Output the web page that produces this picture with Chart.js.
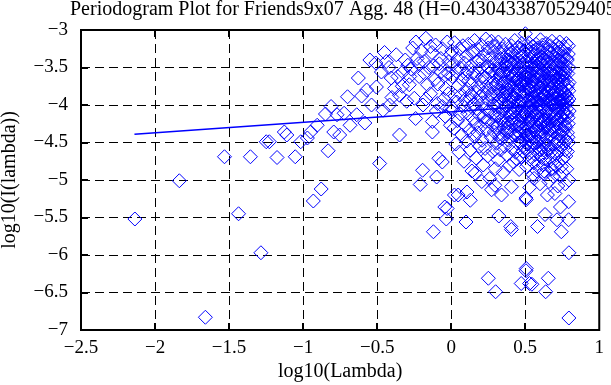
<!DOCTYPE html>
<html>
<head>
<meta charset="utf-8">
<script src="https://cdn.jsdelivr.net/npm/chart.js@4.4.1/dist/chart.umd.min.js"></script>
<style>
  body { margin: 0; background: #fff; }
  #wrap { width: 611px; height: 385px; position: relative; }
</style>
</head>
<body>
<div id="wrap"><canvas id="pgram"></canvas></div>
<script>
const chartTitle = "Periodogram Plot for Friends9x07 Agg. 48 (H=0.430433870529405)";
const xTitle = "log10(Lambda)";
const yTitle = "log10(I(lambda))";
const xTicks = [-2.5, -2, -1.5, -1, -0.5, 0, 0.5, 1];
const yTicks = [-7, -6.5, -6, -5.5, -5, -4.5, -4, -3.5, -3];

// least squares fit (slope 1-2H)
const fitLine = [[-2.139, -4.39], [0.797, -3.98]];

// low frequencies, x < 0
const sparsePoints = [
  [-2.136,-5.52],[-1.836,-5.01],[-1.660,-6.83],[-1.531,-4.69],[-1.436,-5.45],[-1.356,-4.69],
  [-1.285,-5.97],[-1.249,-4.49],[-1.228,-4.49],[-1.176,-4.70],[-1.127,-4.36],[-1.110,-4.40],
  [-1.053,-4.69],[-1.016,-4.49],[-0.971,-4.44],[-0.949,-4.36],[-0.931,-5.28],[-0.905,-4.27],
  [-0.878,-5.12],[-0.849,-4.12],[-0.831,-4.61],[-0.811,-4.02],[-0.793,-4.36],[-0.771,-4.13],
  [-0.753,-4.40],[-0.723,-4.11],[-0.700,-3.89],[-0.683,-4.27],[-0.638,-4.13],[-0.627,-3.64],
  [-0.605,-3.88],[-0.583,-4.24],[-0.571,-3.80],[-0.549,-3.40],[-0.538,-4.00],[-0.509,-3.44],
  [-0.505,-3.76],[-0.483,-4.78],[-0.471,-3.56],[-0.460,-4.07],[-0.450,-3.30],[-0.438,-3.42],
  [-0.420,-3.50],[-0.416,-4.00],[-0.405,-3.64],[-0.400,-3.90],[-0.383,-3.78],[-0.371,-3.33],
  [-0.360,-3.62],[-0.349,-4.40],[-0.349,-3.87],[-0.330,-3.75],[-0.327,-3.56],[-0.310,-3.40],
  [-0.300,-3.95],[-0.293,-3.47],[-0.283,-3.73],[-0.280,-3.62],[-0.270,-3.52],[-0.260,-3.24],
  [-0.249,-3.91],[-0.240,-4.18],[-0.238,-3.16],[-0.230,-3.38],[-0.220,-3.45],[-0.216,-3.62],
  [-0.209,-5.06],[-0.200,-3.28],[-0.193,-4.87],[-0.190,-4.00],[-0.183,-3.42],[-0.180,-3.58],
  [-0.171,-3.11],[-0.170,-3.92],[-0.160,-3.73],[-0.150,-3.50],[-0.140,-3.85],[-0.140,-3.22],
  [-0.130,-3.30],[-0.127,-4.22],[-0.127,-4.36],[-0.120,-5.69],[-0.120,-3.48],[-0.110,-3.66],
  [-0.105,-3.20],[-0.100,-4.08],[-0.098,-4.96],[-0.093,-3.98],[-0.090,-3.72],[-0.083,-4.71],
  [-0.080,-3.45],[-0.071,-3.56],[-0.070,-3.38],[-0.060,-4.76],[-0.060,-3.25],[-0.060,-4.02],
  [-0.050,-3.92],[-0.043,-5.36],[-0.040,-4.15],[-0.040,-3.60],[-0.038,-3.78],[-0.033,-5.52],
  [-0.027,-3.16],[-0.027,-5.38],[-0.020,-3.58],[-0.020,-3.85],[-0.015,-3.42],[-0.010,-4.05],
  [-0.005,-3.33],[-0.005,-4.27]
];

// band 0 .. 0.5
const bandPoints = [
  [0.004,-3.28],[0.008,-3.62],[0.012,-4.05],[0.015,-3.45],[0.019,-4.31],[0.023,-3.17],[0.027,-3.88],
  [0.031,-4.52],[0.035,-3.55],[0.038,-3.96],[0.042,-4.21],[0.046,-3.38],[0.050,-3.74],[0.053,-4.63],
  [0.057,-3.25],[0.061,-4.12],[0.064,-3.51],[0.068,-3.86],[0.072,-4.40],[0.075,-3.66],[0.079,-3.21],
  [0.082,-4.02],[0.086,-4.75],[0.089,-3.44],[0.093,-3.93],[0.096,-4.27],[0.099,-3.58],
  [0.103,-3.35],[0.106,-4.48],[0.109,-3.79],[0.110,-3.55],[0.112,-4.11],[0.116,-3.19],[0.119,-3.67],
  [0.122,-4.34],[0.125,-3.91],[0.128,-4.60],[0.130,-3.86],[0.131,-3.48],[0.134,-4.02],[0.137,-3.72],
  [0.140,-4.88],[0.143,-3.30],[0.146,-4.18],[0.149,-3.57],[0.150,-3.28],[0.152,-3.99],[0.155,-4.42],
  [0.158,-3.14],[0.161,-3.83],[0.164,-4.25],[0.167,-3.61],[0.170,-4.71],[0.170,-4.05],[0.173,-3.42],
  [0.176,-3.95],[0.179,-4.37],[0.182,-3.26],[0.185,-3.77],[0.188,-4.13],[0.190,-3.40],[0.191,-4.55],
  [0.194,-3.52],[0.197,-3.88],
  [0.200,-4.29],[0.203,-3.20],[0.205,-3.69],[0.208,-4.47],[0.210,-3.62],[0.211,-3.97],[0.213,-3.41],
  [0.216,-4.80],[0.219,-3.84],[0.221,-4.16],[0.224,-3.33],[0.227,-3.63],[0.229,-4.58],[0.230,-4.22],
  [0.232,-4.05],[0.234,-3.12],[0.237,-3.75],[0.240,-4.33],[0.242,-3.49],[0.245,-3.93],[0.247,-4.68],
  [0.250,-3.24],[0.250,-3.50],[0.252,-3.81],[0.255,-4.21],[0.257,-3.57],[0.260,-4.98],[0.262,-3.38],
  [0.265,-4.09],[0.267,-3.70],[0.270,-4.43],[0.270,-3.85],[0.272,-3.15],[0.275,-3.89],[0.277,-4.26],
  [0.279,-3.54],[0.282,-4.62],[0.284,-3.99],[0.287,-3.29],[0.289,-3.78],[0.290,-3.22],[0.291,-4.36],
  [0.294,-3.46],[0.296,-4.14],[0.298,-4.85],
  [0.300,-3.61],[0.302,-3.22],[0.304,-4.03],[0.306,-4.51],[0.309,-3.86],[0.310,-4.15],[0.311,-3.40],
  [0.313,-4.27],[0.315,-3.71],[0.317,-4.73],[0.319,-3.16],[0.321,-3.95],[0.323,-4.39],[0.325,-3.53],
  [0.327,-4.11],[0.329,-3.30],[0.330,-3.60],[0.331,-3.82],[0.333,-4.60],[0.335,-3.64],[0.337,-4.20],
  [0.339,-3.45],[0.341,-3.98],[0.343,-4.45],[0.345,-3.25],[0.347,-3.76],[0.349,-4.08],[0.350,-3.88],
  [0.351,-4.90],[0.353,-3.58],[0.355,-4.31],[0.357,-3.37],[0.359,-3.90],[0.361,-4.55],[0.363,-3.69],
  [0.365,-4.15],[0.367,-3.19],[0.369,-3.84],[0.370,-3.45],[0.371,-4.38],[0.373,-3.50],[0.375,-4.02],
  [0.377,-4.67],[0.379,-3.33],[0.381,-3.79],[0.383,-4.24],[0.385,-3.62],[0.387,-4.47],[0.389,-3.42],
  [0.390,-4.30],[0.391,-3.93],[0.393,-4.81],[0.395,-3.27],[0.397,-3.73],[0.399,-4.12],
  [0.401,-3.55],[0.403,-4.34],[0.404,-3.76],[0.405,-3.87],[0.407,-3.21],[0.408,-4.23],[0.409,-4.05],
  [0.411,-4.58],[0.412,-3.30],[0.413,-3.66],[0.415,-3.39],[0.416,-3.91],[0.417,-4.19],[0.419,-3.96],
  [0.420,-4.40],[0.421,-4.76],[0.423,-3.48],[0.424,-3.58],[0.425,-3.81],[0.427,-4.42],[0.428,-4.02],
  [0.429,-3.14],[0.431,-3.70],[0.432,-3.43],[0.433,-4.09],[0.435,-4.63],[0.436,-4.16],[0.437,-3.59],
  [0.439,-3.31],[0.440,-3.67],[0.441,-3.92],[0.443,-4.28],[0.444,-4.72],[0.445,-3.75],[0.447,-4.51],
  [0.448,-3.24],[0.449,-3.44],[0.451,-4.00],[0.452,-3.80],[0.453,-3.23],[0.455,-3.85],[0.456,-4.27],
  [0.457,-4.37],[0.459,-4.86],[0.460,-3.95],[0.461,-3.52],[0.463,-4.14],[0.464,-3.49],[0.465,-3.68],
  [0.467,-3.36],[0.468,-4.50],[0.469,-4.23],[0.471,-3.97],[0.472,-3.72],[0.473,-4.69],[0.475,-3.60],
  [0.476,-4.08],[0.477,-3.18],[0.479,-3.83],[0.480,-3.35],[0.481,-4.46],[0.483,-4.06],[0.484,-4.62],
  [0.485,-3.47],[0.487,-3.74],[0.488,-3.88],[0.489,-4.31],[0.491,-3.28],[0.492,-4.12],[0.493,-4.57],
  [0.495,-3.90],[0.496,-3.55],[0.497,-3.63],[0.499,-4.18],[0.500,-4.35]
];

// high frequencies 0.5 .. 0.8
const densePoints = [
  [0.501,-3.05],[0.502,-3.42],[0.503,-3.66],[0.504,-3.98],[0.505,-4.40],[0.506,-4.11],[0.507,-3.71],
  [0.508,-4.82],[0.509,-3.48],[0.510,-3.26],[0.511,-3.87],[0.512,-4.52],[0.513,-4.15],[0.514,-3.56],
  [0.515,-3.83],[0.516,-4.61],[0.517,-3.35],[0.518,-3.22],[0.519,-4.03],[0.520,-3.78],[0.521,-4.25],
  [0.522,-4.33],[0.523,-3.17],[0.524,-3.94],[0.525,-3.64],[0.526,-4.47],[0.527,-3.57],[0.528,-3.92],
  [0.529,-4.22],[0.530,-4.64],[0.531,-3.49],[0.532,-4.72],[0.533,-4.02],[0.534,-3.80],[0.535,-3.29],
  [0.536,-3.38],[0.537,-4.09],[0.538,-3.59],[0.539,-3.75],[0.540,-4.38],[0.541,-3.96],[0.542,-4.43],
  [0.543,-3.40],[0.544,-4.55],[0.545,-3.91],[0.546,-3.69],[0.547,-4.17],[0.548,-3.52],[0.549,-3.22],
  [0.550,-3.85],[0.551,-4.19],[0.552,-4.29],[0.553,-4.93],[0.554,-3.28],[0.555,-3.53],[0.556,-4.00],
  [0.557,-4.77],[0.558,-3.74],[0.559,-4.44],[0.560,-3.68],[0.561,-3.33],[0.562,-3.90],[0.563,-4.34],
  [0.564,-4.12],[0.565,-3.62],[0.566,-3.97],[0.567,-4.66],[0.568,-3.45],[0.569,-3.41],[0.570,-4.26],
  [0.571,-3.81],[0.572,-4.58],[0.573,-3.19],[0.574,-4.05],[0.575,-3.86],[0.576,-3.57],[0.577,-4.50],
  [0.578,-4.14],[0.579,-3.94],[0.580,-3.38],[0.581,-3.54],[0.582,-4.20],[0.583,-3.72],[0.584,-3.24],
  [0.585,-4.78],[0.586,-3.50],[0.587,-4.02],[0.588,-4.35],[0.589,-3.88],[0.590,-4.49],[0.591,-3.27],
  [0.592,-4.08],[0.593,-3.77],[0.594,-3.66],[0.595,-4.59],[0.596,-4.27],[0.597,-3.99],[0.598,-3.43],
  [0.599,-3.60],
  [0.600,-4.24],[0.601,-3.77],[0.602,-3.93],[0.603,-3.13],[0.604,-4.41],[0.605,-4.60],[0.606,-3.61],
  [0.607,-4.02],[0.608,-3.44],[0.609,-3.84],[0.610,-4.70],[0.611,-4.08],[0.612,-3.36],[0.613,-4.16],
  [0.614,-3.74],[0.615,-3.55],[0.616,-3.93],[0.617,-3.20],[0.618,-4.30],[0.619,-3.24],[0.620,-4.35],
  [0.621,-3.70],[0.622,-4.52],[0.623,-3.88],[0.624,-4.06],[0.625,-3.47],[0.626,-3.57],[0.627,-3.86],
  [0.628,-4.88],[0.629,-4.19],[0.630,-3.31],[0.631,-4.21],[0.632,-4.72],[0.633,-3.65],[0.634,-3.97],
  [0.635,-3.39],[0.636,-4.39],[0.637,-3.52],[0.638,-3.99],[0.639,-3.79],[0.640,-4.11],[0.641,-4.45],
  [0.642,-3.18],[0.643,-4.63],[0.644,-3.66],[0.645,-3.91],[0.646,-3.41],[0.647,-3.82],[0.648,-4.27],
  [0.649,-3.73],[0.650,-4.26],[0.651,-4.01],[0.652,-3.58],[0.653,-3.25],[0.654,-4.46],[0.655,-3.29],
  [0.656,-4.54],[0.657,-3.89],[0.658,-4.14],[0.659,-3.95],[0.660,-4.75],[0.661,-3.63],[0.662,-3.50],
  [0.663,-3.37],[0.664,-4.33],[0.665,-4.13],[0.666,-3.82],[0.667,-4.04],[0.668,-3.79],[0.669,-3.21],
  [0.670,-3.69],[0.671,-4.40],[0.672,-4.57],[0.673,-3.95],[0.674,-3.31],[0.675,-4.23],[0.676,-3.48],
  [0.677,-4.62],[0.678,-3.78],[0.679,-4.42],[0.680,-3.68],[0.681,-3.15],[0.682,-4.09],[0.683,-4.00],
  [0.684,-3.60],[0.685,-3.87],[0.686,-3.44],[0.687,-4.67],[0.688,-3.34],[0.689,-4.31],[0.690,-4.18],
  [0.691,-3.74],[0.692,-3.86],[0.693,-3.99],[0.694,-4.36],[0.695,-4.78],[0.696,-3.54],[0.697,-3.26],
  [0.698,-3.62],[0.699,-4.52],
  [0.700,-3.92],[0.701,-3.67],[0.702,-4.22],[0.703,-4.12],[0.704,-3.39],[0.705,-3.50],[0.706,-4.81],
  [0.707,-3.83],[0.708,-3.97],[0.709,-4.28],[0.710,-3.57],[0.711,-4.66],[0.712,-3.20],[0.713,-4.03],
  [0.714,-3.34],[0.715,-4.49],[0.716,-3.75],[0.717,-4.12],[0.718,-3.45],[0.719,-4.19],[0.720,-3.70],
  [0.721,-3.96],[0.722,-3.30],[0.723,-3.90],[0.724,-4.62],[0.725,-3.64],[0.726,-4.46],[0.727,-4.07],
  [0.728,-3.86],[0.729,-3.23],[0.730,-4.40],[0.731,-3.51],[0.732,-4.03],[0.733,-3.16],[0.734,-4.25],
  [0.735,-3.60],[0.736,-3.72],[0.737,-4.95],[0.738,-4.30],[0.739,-3.94],[0.740,-3.42],[0.741,-3.79],
  [0.742,-4.15],[0.743,-3.80],[0.744,-4.82],[0.745,-4.55],[0.746,-3.61],[0.747,-3.45],[0.748,-3.27],
  [0.749,-4.32],[0.750,-4.16],[0.751,-3.89],[0.752,-4.00],[0.753,-3.68],[0.754,-3.53],[0.755,-4.71],
  [0.756,-3.93],[0.757,-3.70],[0.758,-3.36],[0.759,-4.52],[0.760,-4.21],[0.761,-3.98],[0.762,-3.29],
  [0.763,-4.44],[0.764,-3.59],[0.765,-3.85],[0.766,-3.23],[0.767,-4.10],[0.768,-4.27],[0.769,-3.84],
  [0.770,-4.60],[0.771,-3.56],[0.772,-3.47],[0.773,-3.91],[0.774,-4.68],[0.775,-4.30],[0.776,-3.66],
  [0.777,-3.99],[0.778,-3.18],[0.779,-4.05],[0.780,-3.38],[0.781,-4.85],[0.782,-3.77],[0.783,-4.13],
  [0.784,-3.40],[0.785,-4.37],[0.786,-3.73],[0.787,-3.95],[0.788,-3.58],[0.789,-4.43],[0.790,-4.17],
  [0.791,-3.32],[0.792,-3.21],[0.793,-4.50],[0.794,-3.81],[0.795,-3.92],[0.796,-3.70],[0.797,-4.08]
];

// extra points filling the core of the cloud
const corePoints = [
  [0.302,-3.72],[0.308,-4.30],[0.314,-3.52],[0.318,-4.02],[0.324,-3.80],[0.328,-4.44],[0.334,-3.38],
  [0.338,-3.92],[0.344,-4.18],[0.348,-3.55],[0.354,-3.70],[0.358,-4.25],[0.364,-3.46],[0.368,-4.00],
  [0.374,-3.82],[0.378,-4.36],[0.384,-3.40],[0.388,-3.97],[0.394,-4.15],[0.398,-3.58],
  [0.406,-3.45],[0.414,-4.10],[0.422,-3.62],[0.426,-4.25],[0.434,-3.86],[0.438,-4.40],[0.442,-3.54],
  [0.446,-4.05],[0.454,-3.65],[0.458,-4.20],[0.462,-3.78],[0.466,-4.38],[0.470,-3.42],[0.474,-3.94],
  [0.478,-4.30],[0.482,-3.58],[0.486,-4.15],[0.490,-3.70],[0.494,-4.45],[0.498,-3.80],
  [0.511,-3.62],[0.519,-4.40],[0.527,-3.78],[0.535,-4.20],[0.543,-3.68],[0.551,-4.50],[0.559,-3.90],
  [0.567,-3.50],[0.575,-4.32],[0.583,-3.95],[0.591,-3.62],[0.599,-4.42],
  [0.607,-3.70],[0.615,-4.25],[0.623,-3.45],[0.631,-3.86],[0.639,-4.55],[0.647,-4.08],[0.655,-3.72],
  [0.663,-4.20],[0.671,-3.55],[0.679,-3.92],[0.687,-4.28],[0.695,-3.82],
  [0.703,-4.45],[0.711,-3.66],[0.719,-4.02],[0.727,-3.40],[0.735,-4.38],[0.743,-3.96],[0.751,-3.62],
  [0.759,-4.10],[0.767,-3.52],[0.775,-4.48],[0.783,-3.88],[0.791,-4.25],
  [0.515,-4.28],[0.545,-3.46],[0.585,-4.12],[0.625,-4.60],[0.665,-3.60],[0.705,-4.15],[0.745,-3.35],
  [0.785,-4.62],[0.555,-4.08],[0.595,-3.38],[0.635,-4.30],[0.675,-4.85],[0.715,-3.88],[0.755,-4.35],
  [0.795,-3.50]
];

// low outliers for x >= 0
const tailPoints = [
  [0.022,-5.20],[0.047,-5.20],[0.107,-5.16],[0.129,-5.27],[0.100,-5.56],[0.162,-4.91],[0.207,-5.02],
  [0.273,-5.13],[0.295,-5.07],[0.322,-5.48],[0.340,-5.20],[0.402,-5.62],[0.407,-5.66],[0.407,-5.09],
  [0.251,-6.31],[0.300,-6.49],[0.473,-6.38],[0.507,-6.18],[0.507,-5.26],[0.505,-6.21],[0.529,-6.38],
  [0.545,-6.39],[0.656,-6.31],[0.638,-6.49],[0.795,-5.97],[0.795,-6.84],[0.744,-5.69],[0.793,-5.53],
  [0.583,-5.62],[0.634,-5.46],[0.715,-5.53],[0.793,-5.29],[0.738,-5.36],[0.505,-5.24],[0.795,-5.00],
  [0.650,-5.20],[0.700,-5.18],[0.560,-4.98],[0.600,-5.05],[0.630,-4.92],[0.660,-5.02],[0.690,-4.95],
  [0.720,-5.08],[0.750,-4.90],[0.770,-5.05],[0.530,-5.10],[0.580,-4.88],[0.620,-4.80],[0.680,-4.85]
];

const tickFont = { family: '"Liberation Serif", "Times New Roman", serif', size: 19 };
const titleFont = { family: '"Liberation Serif", "Times New Roman", serif', size: 20, lineHeight: 1 };
const minus = v => String(v).replace("-", "\u2212");

const toXY = pts => pts.map(([x, y]) => ({ x, y }));

function diamonds(pts) {
  return {
    type: "scatter",
    data: toXY(pts),
    pointStyle: "rectRot",
    pointRadius: 7,
    pointBorderWidth: 1,
    pointBorderColor: "#0000ff",
    pointBackgroundColor: "rgba(0,0,0,0)",
    clip: false
  };
}

const framePlugin = {
  id: "frame",
  afterDraw(chart) {
    const { ctx, chartArea: a } = chart;
    const sx = chart.scales.x, sy = chart.scales.y;
    ctx.save();
    ctx.setLineDash([]);
    ctx.strokeStyle = "#000";
    ctx.lineWidth = 2;
    ctx.beginPath();
    xTicks.slice(1, -1).forEach(v => {
      const px = Math.round(sx.getPixelForValue(v));
      ctx.moveTo(px, a.bottom); ctx.lineTo(px, a.bottom - 7);
      ctx.moveTo(px, a.top); ctx.lineTo(px, a.top + 7);
    });
    yTicks.slice(1, -1).forEach(v => {
      const py = Math.round(sy.getPixelForValue(v));
      ctx.moveTo(a.left, py); ctx.lineTo(a.left + 7, py);
      ctx.moveTo(a.right, py); ctx.lineTo(a.right - 7, py);
    });
    ctx.stroke();
    ctx.strokeRect(a.left, a.top, a.right - a.left, a.bottom - a.top);
    ctx.font = '20px "Liberation Serif", serif';
    ctx.fillStyle = "#000";
    ctx.textAlign = "left";
    ctx.textBaseline = "alphabetic";
    ctx.fillText(chartTitle, 70, 15);
    ctx.restore();
  }
};

const edgeTransparent = ctx =>
  (ctx.tick && (ctx.tick.value === ctx.scale.min || ctx.tick.value === ctx.scale.max)) ? "rgba(0,0,0,0)" : "#000";

new Chart(document.getElementById("pgram"), {
  data: {
    datasets: [
      {
        type: "line",
        data: toXY(fitLine),
        borderColor: "#0000ff",
        borderWidth: 1.5,
        pointRadius: 0,
        clip: false
      },
      diamonds(sparsePoints),
      diamonds(bandPoints),
      diamonds(densePoints),
      diamonds(corePoints),
      diamonds(tailPoints)
    ]
  },
  options: {
    responsive: true,
    maintainAspectRatio: false,
    animation: false,
    layout: { padding: { top: 30, right: 5, left: 0, bottom: 0 } },
    plugins: { legend: { display: false }, tooltip: { enabled: false }, title: { display: false } },
    scales: {
      x: {
        type: "linear",
        min: -2.5,
        max: 1,
        afterBuildTicks: s => { s.ticks = xTicks.map(v => ({ value: v })); },
        afterFit: s => { s.height = 55; },
        ticks: { color: "#000", font: tickFont, padding: 7, maxRotation: 0, callback: minus },
        grid: { color: edgeTransparent, lineWidth: 1, drawTicks: false },
        border: { display: false, dash: [9, 5] },
        title: { display: true, text: xTitle, color: "#000", font: titleFont, padding: { top: 0, bottom: 3 } }
      },
      y: {
        type: "linear",
        min: -7,
        max: -3,
        afterBuildTicks: s => { s.ticks = yTicks.map(v => ({ value: v })); },
        afterFit: s => { s.width = 81; },
        ticks: { color: "#000", font: tickFont, padding: 13, callback: minus },
        grid: { color: edgeTransparent, lineWidth: 1, drawTicks: false },
        border: { display: false, dash: [9, 5] },
        title: { display: true, text: yTitle, color: "#000", font: titleFont, padding: { top: 0, bottom: 0 } }
      }
    }
  },
  plugins: [framePlugin]
});
</script>
</body>
</html>
